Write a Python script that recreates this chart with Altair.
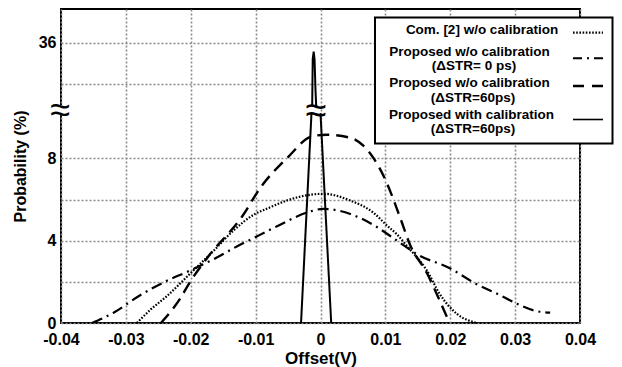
import altair as alt
import pandas as pd

# ---------------- data ----------------
# Com. [2] w/o calibration (dotted)
com_x = [-0.0283, -0.0262, -0.0237, -0.0201, -0.0165, -0.0134, -0.0101, -0.0083,
         -0.0052, -0.0030, 0.0005, 0.0046, 0.0082, 0.0102, 0.0118, 0.0133, 0.0164,
         0.0184, 0.0210, 0.0241]
com_y = [0.0, 0.65, 1.3, 2.4, 3.5, 4.5, 5.3, 5.55, 5.95, 6.15, 6.28, 5.95, 5.35,
         4.75, 4.3, 3.75, 2.55, 1.4, 0.45, 0.0]

# Proposed w/o calibration (dSTR = 0 ps) (dash-dot)
p0_x = [-0.0352, -0.0319, -0.0278, -0.0237, -0.0201, -0.0165, -0.0124, -0.0108,
        -0.0067, -0.0016, 0.0004, 0.0046, 0.0085, 0.0118, 0.0151, 0.0197, 0.0240,
        0.0277, 0.0305, 0.0330, 0.0354]
p0_y = [0.0, 0.5, 1.35, 2.05, 2.55, 3.1, 3.8, 4.05, 4.7, 5.42, 5.55, 5.3, 4.7,
        4.0, 3.3, 2.7, 1.9, 1.35, 0.9, 0.6, 0.5]

# Proposed w/o calibration (dSTR = 60 ps) (dashed)
p60_x = [-0.0246, -0.0216, -0.0201, -0.0175, -0.0119, -0.0093, -0.0052, -0.0013,
         0.0010, 0.0046, 0.0082, 0.0100, 0.0123, 0.0138, 0.0164, 0.0185, 0.0199]
p60_y = [0.0, 1.2, 2.0, 3.15, 5.26, 6.56, 8.0, 9.07, 9.15, 9.0, 8.0, 6.96, 5.1,
         3.8, 2.43, 1.0, 0.0]

# Proposed with calibration (dSTR = 60 ps) (solid), three pieces around the axis break
cal_seg = ["low_left", "low_left", "low_right", "low_right",
           "up", "up", "up", "up", "up", "up"]
cal_x = [-0.0030, -0.00139, 0.0000, 0.00165,
         -0.00128, -0.00120, -0.00105, -0.00092, -0.00076, -0.00066]
cal_y = [0.0, 10.2, 10.2, 0.0,
         32.9, 35.2, 35.56, 35.2, 33.6, 32.9]

# axis ticks
x_ticks = [-0.04, -0.03, -0.02, -0.01, 0.0, 0.01, 0.02, 0.03, 0.04]
y_grid_real = [0, 2, 4, 6, 8, 34, 36]
y_label_real = [0, 4, 8, 36]

legend_lines = ["Com. [2] w/o calibration",
                "Proposed w/o calibration", "(\u0394STR= 0 ps)",
                "Proposed w/o calibration", "(\u0394STR=60ps)",
                "Proposed with calibration", "(\u0394STR=60ps)"]

# ---------------- broken-axis mapping ----------------
SHIFT = 22.37  # values above the break are drawn shifted down by this amount


def disp(v):
    return v if v < 20 else round(v - SHIFT, 4)


rows = []
for s, xs, ys in [("com", com_x, com_y), ("p0", p0_x, p0_y), ("p60", p60_x, p60_y)]:
    for a, b in zip(xs, ys):
        rows.append({"series": s, "seg": s, "x": a, "y": b})
for sg, a, b in zip(cal_seg, cal_x, cal_y):
    rows.append({"series": "cal", "seg": sg, "x": a, "y": b})
df = pd.DataFrame(rows)

y_vals = [disp(v) for v in y_grid_real]
y_expr = " : ".join(
    f"abs(datum.value - {disp(v)}) < 0.01 ? '{v}'" for v in y_label_real) + " : ''"
x_expr = "abs(datum.value) < 1e-9 ? '0' : (datum.value < 0 ? '-' : '') + format(abs(datum.value), '.2f')"

FONT = "Liberation Sans"
grid_kw = dict(grid=True, gridDash=[2, 2], gridColor="#8a8a8a", gridWidth=1.6,
               ticks=False, domain=False, labelFont=FONT, labelFontWeight="bold",
               labelColor="black", titleFont=FONT, titleFontWeight="bold",
               titleColor="black", labelOverlap=False, labelFlush=False)

x_enc = alt.X("x:Q", scale=alt.Scale(domain=[-0.04, 0.04], nice=False, zero=False),
              axis=alt.Axis(values=x_ticks, labelExpr=x_expr, labelFontSize=16,
                            labelPadding=8, title="Offset(V)", titleFontSize=17,
                            titlePadding=3, **grid_kw))
y_enc = alt.Y("d:Q", scale=alt.Scale(domain=[0, 15.26], nice=False, zero=False),
              axis=alt.Axis(values=y_vals, labelExpr=y_expr, labelFontSize=16,
                            labelPadding=5, title="Probability (%)", titleFontSize=16,
                            titlePadding=10, **grid_kw))

base = alt.Chart(df).transform_calculate(
    d=f"datum.y > 20 ? datum.y - {SHIFT} : datum.y")


def curve(series, dash, width, interp):
    kw = dict(color="black", strokeWidth=width, interpolate=interp, clip=False)
    if dash:
        kw["strokeDash"] = dash
    return base.transform_filter(alt.datum.series == series).mark_line(**kw).encode(
        x=x_enc, y=y_enc, detail="seg:N", order="x:Q")


DOT = [1.6, 1.6]
DASHDOT = [11, 5, 2, 5]
DASH = [12, 7]

layers = [
    curve("com", DOT, 2.2, "monotone"),
    curve("p0", DASHDOT, 2.2, "monotone"),
    curve("p60", DASH, 2.4, "monotone"),
    base.transform_filter(alt.datum.series == "cal").mark_line(
        color="black", strokeWidth=2).encode(x=x_enc, y=y_enc, detail="seg:N",
                                             order=alt.Order("x:Q")),
]

one = alt.Data(values=[{"a": 1}])
OX, OY = 61, 9  # page position of plot origin


def txt(s, px, py, size=14, font=FONT, weight="bold"):
    return alt.Chart(one).mark_text(text=s, font=font, fontSize=size, fontWeight=weight,
                                    align="center", baseline="middle",
                                    color="black").encode(
        x=alt.value(px - OX), y=alt.value(py - OY))


def rule(x1, x2, y1, y2, dash=None, color="black", width=2):
    kw = dict(color=color, strokeWidth=width)
    if dash:
        kw["strokeDash"] = dash
    return alt.Chart(one).mark_rule(**kw).encode(
        x=alt.value(x1 - OX), x2=alt.value(x2 - OX),
        y=alt.value(y1 - OY), y2=alt.value(y2 - OY))


# axis break on the y axis
layers.append(rule(61, 61, 105, 114, color="white", width=5))
layers.append(txt("\u2248", 60, 111, size=36, weight="normal"))
# break mark on the calibrated spike
layers.append(txt("\u2248", 316, 112, size=38, weight="normal"))

# legend box
layers.append(alt.Chart(one).mark_rect(fill="white", stroke="black", strokeWidth=2).encode(
    x=alt.value(375 - OX), x2=alt.value(612.5 - OX),
    y=alt.value(17.5 - OY), y2=alt.value(143.5 - OY)))
legend_pos = [(482, 30, 13.5), (469.5, 51.5, 13.5), (474, 66, 13.5), (469.5, 82.5, 13.5),
              (473, 97.5, 13.5), (471.5, 114.5, 13.5), (473, 129, 13.5)]
for s, (px, py, fs) in zip(legend_lines, legend_pos):
    layers.append(txt(s, px, py, size=fs))
layers.append(rule(573, 603, 32.7, 32.7, dash=DOT, width=2.2))
layers.append(rule(573, 603, 58.3, 58.3, dash=[9, 5, 2, 5], width=2))
layers.append(rule(573, 603, 86, 86, dash=[11, 8], width=2.6))
layers.append(rule(573, 603, 119.5, 119.5, width=1.6))

chart = alt.layer(*layers).properties(
    width=519, height=314,
    padding={"left": 53, "top": 1, "right": 34, "bottom": 44},
    autosize=alt.AutoSizeParams(type="none"),
).configure_view(stroke="black", strokeWidth=2)

chart.save("out.html", embed_options={"renderer": "svg", "actions": False})
